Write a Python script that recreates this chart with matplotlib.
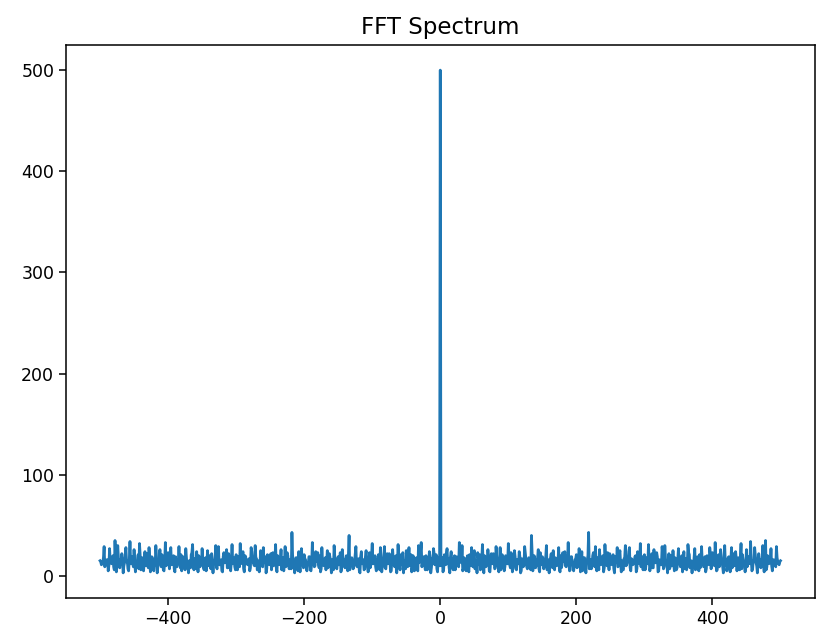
import matplotlib
matplotlib.use("Agg")
import matplotlib.pyplot as plt
import numpy as np

# magnitudes read off the picture; the spectrum of a real signal is symmetric,
# so only the positive half is listed and the negative half mirrors it
# even bins: 2, 4, ..., 500
even_mag = [
    14, 4, 21, 11, 27, 17, 3, 24, 9, 15, 6, 19, 13, 33, 22, 30, 7, 16, 5, 20, 4, 13, 28, 9, 25,
    12, 3, 17, 21, 10, 31, 3, 19, 11, 26, 5, 15, 13, 22, 7, 29, 10, 4, 28, 9, 16, 5, 20, 12, 32,
    11, 23, 4, 15, 19, 6, 13, 24, 3, 17, 9, 29, 14, 7, 18, 12, 40, 5, 20, 8, 15, 26, 4, 13, 19,
    7, 16, 30, 12, 3, 18, 14, 25, 6, 15, 11, 28, 4, 8, 23, 17, 10, 14, 33, 5, 19, 12, 5, 16, 21,
    11, 27, 4, 24, 13, 18, 3, 16, 43, 12, 7, 20, 15, 29, 5, 13, 26, 11, 17, 4, 31, 14, 23, 6, 16,
    12, 21, 3, 15, 28, 10, 25, 4, 7, 17, 30, 11, 14, 28, 5, 16, 12, 19, 4, 24, 13, 32, 18, 6, 21,
    9, 14, 31, 5, 17, 8, 26, 13, 23, 4, 16, 11, 29, 7, 30, 14, 3, 22, 9, 17, 25, 5, 15, 8, 27,
    13, 18, 4, 24, 14, 6, 31, 21, 12, 3, 9, 27, 11, 19, 5, 8, 29, 16, 10, 4, 20, 12, 28, 7, 23,
    15, 33, 5, 17, 9, 26, 14, 3, 30, 16, 8, 19, 4, 28, 10, 15, 24, 5, 18, 6, 32, 21, 13, 4, 26,
    12, 17, 34, 5, 15, 28, 13, 3, 22, 16, 11, 30, 4, 35, 9, 18, 13, 27, 5, 16, 12, 29, 14, 11, 15,
]
# odd bins: 1, 3, ..., 499
odd_mag = [
    10, 18, 7, 15, 22, 12, 8, 19, 14, 6, 20, 11, 17, 9, 24, 13, 5, 18, 12, 16, 8, 21, 10, 14, 19,
    7, 15, 23, 11, 6, 17, 13, 20, 9, 14, 18, 4, 22, 12, 16, 8, 19, 11, 15, 6, 21, 13, 9, 17, 12,
    20, 8, 14, 10, 25, 7, 16, 12, 19, 5, 15, 11, 22, 9, 13, 17, 6, 21, 12, 15, 10, 18, 7, 23, 11,
    14, 9, 19, 6, 16, 12, 22, 8, 13, 18, 10, 15, 7, 20, 11, 14, 24, 9, 16, 12, 6, 19, 13, 10, 17,
    8, 15, 21, 12, 5, 18, 10, 14, 20, 7, 16, 11, 23, 9, 13, 18, 6, 15, 12, 20, 8, 17, 10, 14, 22,
    11, 16, 7, 19, 13, 9, 21, 12, 15, 6, 18, 10, 14, 24, 8, 17, 11, 13, 20, 7, 15, 12, 9, 19, 14,
    6, 18, 12, 15, 10, 22, 8, 16, 13, 19, 5, 14, 11, 21, 9, 17, 12, 15, 7, 20, 10, 13, 18, 6, 16,
    12, 9, 20, 14, 7, 17, 11, 23, 8, 15, 13, 18, 6, 16, 10, 21, 12, 14, 9, 19, 7, 15, 11, 22, 13,
    17, 10, 14, 6, 21, 12, 16, 9, 19, 11, 5, 18, 13, 15, 8, 22, 10, 17, 12, 14, 20, 7, 16, 11, 13,
    9, 19, 12, 16, 7, 14, 21, 10, 15, 13, 8, 18, 11, 17, 6, 20, 12, 14, 10, 16, 13, 9, 18, 12, 14,
]
dc_mag = 500  # the big spike at 0 Hz

half = np.empty(500)
half[0::2] = odd_mag
half[1::2] = even_mag
mag = np.concatenate([half[::-1], [dc_mag], half])
freqs = np.arange(-500, 501)

fig = plt.figure(figsize=(8.16, 6.42), dpi=100)
ax = fig.add_axes([0.0809, 0.0685, 0.9173, 0.8614])
ax.plot(freqs, mag, linewidth=2.0)
ax.set_title("FFT Spectrum", fontsize=16.5, pad=8)
ax.tick_params(labelsize=12.5, length=5, width=1.1)
for s in ax.spines.values():
    s.set_linewidth(1.1)

fig.savefig("out.png", dpi=100)
